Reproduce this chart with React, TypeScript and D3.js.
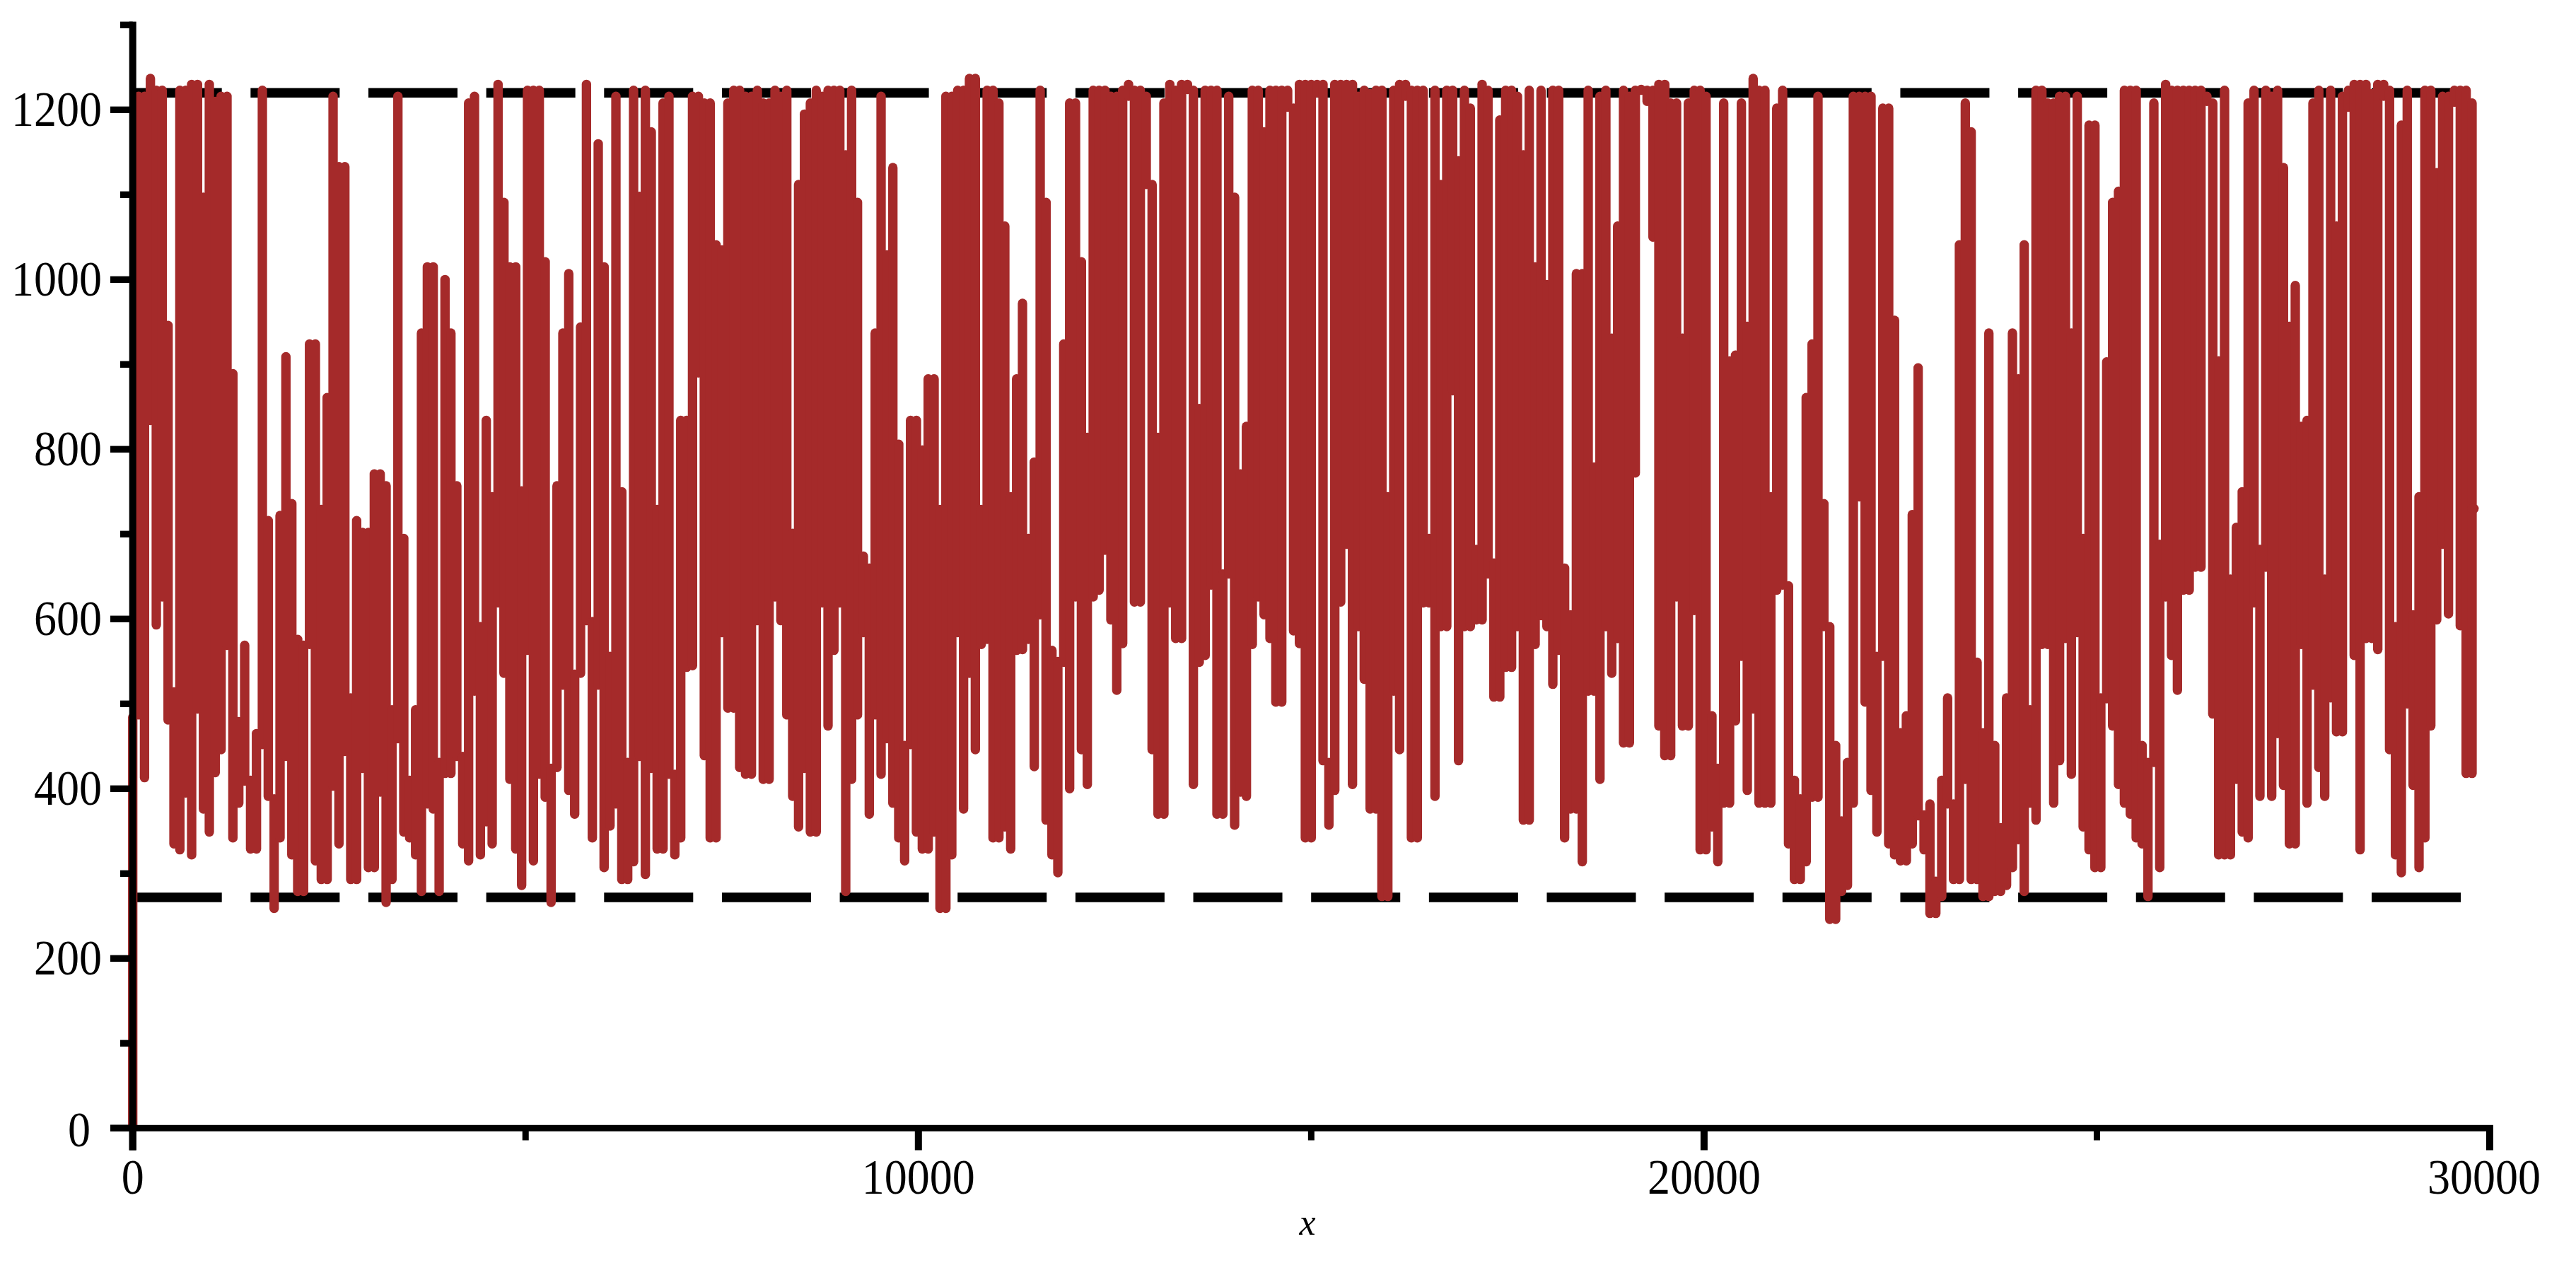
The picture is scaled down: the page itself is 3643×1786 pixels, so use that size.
import React from "react";
import * as d3 from "d3";

// One vertical stroke per 75 units of x: the range [lo, hi] that the curve sweeps in that bin.
const binWidth = 75;
const hiA = [484,1216,1216,1237,1223,1223,946,514,1223,1223,1230,1230,1097,1230,1210,1216,1216,889,479,569,410,465,1223,716,388,722,909,736,576,569,924,924,729,861,1216,1133,1133,507,716,702,702,771,771,757,493,1216,695,410,493,937];
const loA = [0,487,413,834,593,626,481,335,328,395,322,494,376,349,419,446,569,342,383,409,329,329,452,391,259,342,438,322,279,279,570,315,293,293,403,335,444,293,293,424,307,307,396,266,293,459,349,342,322,279];
const hiB = [1015,1015,431,1000,937,757,438,1208,1216,591,834,744,1230,1091,1015,1015,751,1223,1223,1223,1021,424,757,937,1007,535,944,1230,597,1160,1015,556,1216,750,431,1223,1098,1223,1174,729,1208,1216,417,834,834,1216,1216,1208,1208,1041];
const loB = [382,376,279,418,418,438,335,315,515,322,361,335,619,536,411,329,286,563,315,417,390,266,425,522,398,370,536,598,342,522,307,356,382,293,293,314,438,299,424,329,329,417,322,342,543,545,890,439,342,342];
const hiC = [1035,1208,1223,1223,1216,1216,1223,1208,1208,1223,1216,1223,701,1112,1195,1208,1223,1216,1223,1223,1223,1147,1223,1091,674,660,937,1216,1029,1132,806,451,834,834,799,883,883,729,1216,1216,1223,1223,1237,1237,729,1223,1223,1208,1063,744];
const loC = [584,495,495,425,417,417,598,411,411,626,598,487,391,355,424,349,349,619,474,563,619,279,411,487,584,370,487,417,459,383,342,315,452,349,329,329,349,259,259,322,584,376,536,446,570,576,342,342,355,329];
const hiD = [883,972,695,785,1223,1091,563,550,924,1208,1208,1021,814,1223,1223,1223,1216,1216,1223,1230,1223,1223,1216,1112,814,1208,1230,1223,1230,1230,1223,848,1223,1223,1223,653,1216,1097,771,827,1223,1223,1174,1223,1223,1223,1223,1202,1230,1230];
const loD = [563,564,576,426,605,363,322,301,549,400,626,446,405,626,634,681,599,516,571,1216,620,620,1112,446,370,370,619,577,577,1224,405,549,557,640,370,370,653,357,396,391,570,626,605,577,502,502,1203,586,571,342];
const hiE = [1230,1230,1230,431,1230,1230,1230,1230,1216,1223,1219,1223,1223,744,1223,1230,1230,1223,1223,1223,695,1223,1112,1223,1223,1140,1223,1202,682,1230,1223,666,1188,1223,1223,1216,1147,1223,1015,1223,994,1223,1223,660,605,1007,1007,1223,779,1216];
const loE = [342,1220,433,357,398,620,688,405,591,529,376,376,273,273,515,446,1216,342,342,619,619,391,591,591,869,433,591,591,599,599,653,508,508,543,543,591,363,363,570,604,591,523,563,342,376,376,314,515,515,411];
const hiF = [1223,931,1063,1223,1216,1223,1223,1223,1223,1230,1230,1208,1208,931,1208,1223,1223,1216,486,424,1208,904,911,1208,945,1237,1223,1223,744,1202,1223,639,410,388,861,924,1216,736,591,451,362,431,1216,1216,1216,1216,556,1202,1202,952];
const loF = [591,536,577,454,454,772,1224,1210,1050,474,439,439,626,474,474,610,328,328,355,314,383,383,480,556,398,494,383,383,383,634,640,335,293,293,314,390,390,591,246,246,279,286,383,744,502,398,349,556,335,322];
const hiG = [466,486,723,896,369,382,291,410,507,382,1041,1208,1174,549,466,937,451,354,507,937,883,1041,493,1223,1223,1208,1208,1216,1216,937,1216,695,1182,1182,507,903,1091,1104,1223,1223,1223,451,431,1208,688,1230,1223,1223,1223,1223];
const loG = [315,315,335,368,328,253,253,273,382,293,293,411,293,293,273,273,279,279,286,307,340,279,383,363,570,570,383,433,577,417,584,355,328,307,307,506,474,405,383,370,342,335,273,431,307,626,557,516,634,634];
const hiH = [1223,1223,1216,1208,904,1223,647,708,750,1208,1223,682,1223,1216,1223,1132,945,993,827,834,1208,1223,647,1223,1063,1216,1223,1230,1230,1230,1219,1230,1230,1223,591,1182,1223,605,744,1223,1223,1126,1216,1216,1223,1223,1223,1208];
const loH = [661,661,1210,488,322,322,322,411,349,342,619,391,661,391,465,404,335,335,570,383,522,425,391,507,467,467,1203,557,328,577,577,564,1216,446,322,301,500,404,307,342,474,599,688,606,1209,592,418,418];
const hiValues = [...hiA, ...hiB, ...hiC, ...hiD, ...hiE, ...hiF, ...hiG, ...hiH];
const loValues = [...loA, ...loB, ...loC, ...loD, ...loE, ...loF, ...loG, ...loH];

const lastPoint: [number, number][] = [[29775, 730], [29800, 730]];
const boundLevels = [1220, 272];
const boundEnd = 29800;
const xMajor = [0, 10000, 20000, 30000];
const xMinor = [5000, 15000, 25000];
const yMajor = [0, 200, 400, 600, 800, 1000, 1200];
const yMinor = [100, 300, 500, 700, 900, 1100, 1300];

const W = 3643, H = 1786;
const BROWN = "#a52a2a";
const FONT = "'Liberation Serif', 'Times New Roman', serif";

const x = d3.scaleLinear().domain([0, 30000]).range([187.7, 3521]);
const y = d3.scaleLinear().domain([0, 1300]).range([1595.3, 35.3]);
const line = d3.line<[number, number]>().x((d) => x(d[0])).y((d) => y(d[1]));

const xLabelShift = (v: number) => (v === 30000 ? -8 : 0);

export default function App() {
  const x0 = x(0);
  const y0 = y(0);
  const axisW = 10, axisH = 9;
  return (
    <svg width={W} height={H} viewBox={`0 0 ${W} ${H}`}
      style={{ position: "absolute", left: 0, top: 0, background: "#fff" }}>
      {boundLevels.map((v) => (
        <path key={v} d={line([[0, v], [boundEnd, v]]) ?? ""} fill="none" stroke="#000"
          strokeWidth={13.5} strokeDasharray="126 40.65" />
      ))}
      <g fill="none" stroke={BROWN} strokeWidth={13.3} strokeLinecap="round" strokeLinejoin="round">
        {hiValues.map((hi, i) => (
          <path key={i} d={line([[i * binWidth, loValues[i]], [i * binWidth, hi]]) ?? ""} />
        ))}
        <path d={line(lastPoint) ?? ""} />
      </g>
      <g fill="#000">
        <rect x={x0 - axisW / 2} y={y(1300) - 4.7} width={axisW} height={1626.5 - y(1300) + 4.7} />
        <rect x={156} y={y0 - axisH / 2} width={x(30000) + 5 - 156} height={axisH} />
        {yMajor.map((v) => <rect key={v} x={156} y={y(v) - 4.7} width={x0 - 156} height={9.4} />)}
        {yMinor.map((v) => <rect key={v} x={170} y={y(v) - 4.7} width={x0 - 170} height={9.4} />)}
        {xMajor.map((v) => <rect key={v} x={x(v) - 5} y={y0} width={10} height={1626.5 - y0} />)}
        {xMinor.map((v) => <rect key={v} x={x(v) - 4.5} y={y0} width={9} height={1612.5 - y0} />)}
      </g>
      <g fontFamily={FONT} fontSize={69} fill="#000">
        {yMajor.map((v) => {
          const s = String(v);
          return (
            <text key={v} x={v === 0 ? 128 : 144} y={y(v) + (v === 0 ? 26 : 23)} textAnchor="end"
              textLength={s.length * 32} lengthAdjust="spacingAndGlyphs">{s}</text>
          );
        })}
        {xMajor.map((v) => {
          const s = String(v);
          return (
            <text key={v} x={x(v) + xLabelShift(v)} y={1687.5} textAnchor="middle"
              textLength={s.length * 32} lengthAdjust="spacingAndGlyphs">{s}</text>
          );
        })}
      </g>
      <text x={1849} y={1746} textAnchor="middle" fontFamily={FONT} fontStyle="italic" fontSize={52} fill="#000">x</text>
    </svg>
  );
}
